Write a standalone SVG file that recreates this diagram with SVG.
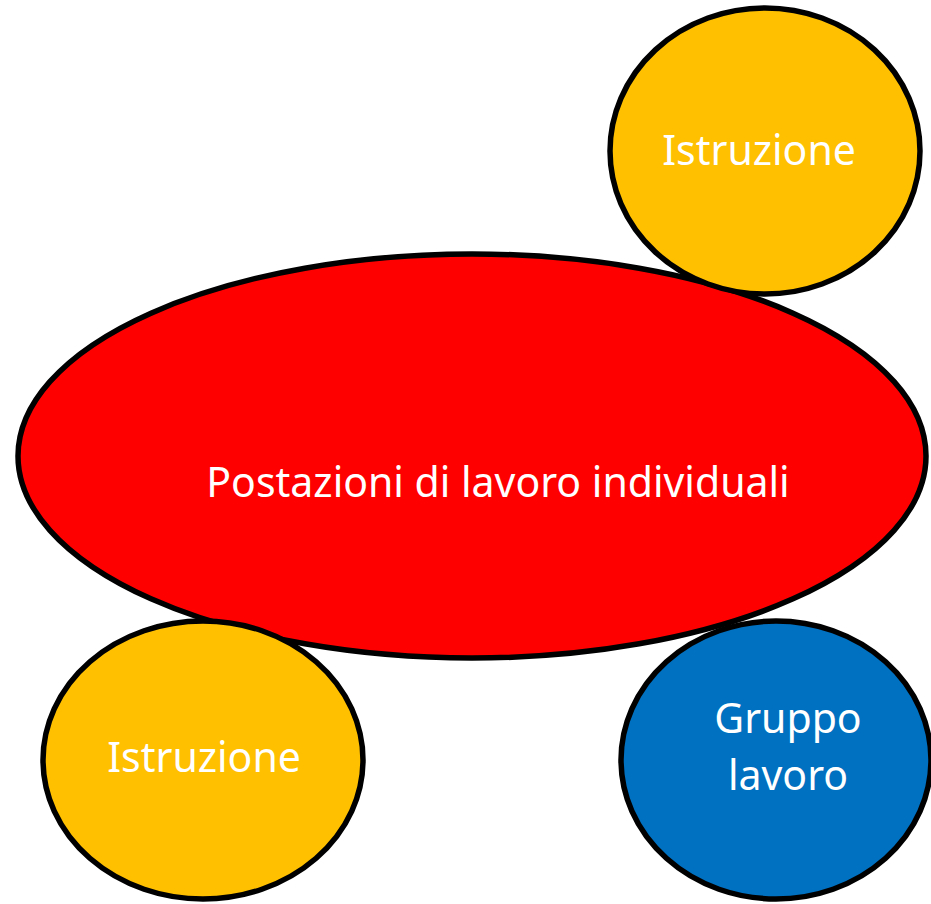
<svg xmlns="http://www.w3.org/2000/svg" width="931" height="904" viewBox="0 0 931 904">
<style>
.n{stroke:#000;stroke-width:5.5}
.t{font-family:"Noto Sans","Open Sans",sans-serif;font-size:41px;fill:#fff;text-anchor:middle}
</style>
<rect width="931" height="904" fill="#fff"/>
<g id="connectors"></g>
<g id="main"><ellipse class="n" cx="472" cy="456" rx="454" ry="202" fill="#ff0000"/><text class="t" x="498" y="497">Postazioni di lavoro individuali</text></g>
<g id="istr-top"><ellipse class="n" cx="765" cy="151" rx="155" ry="143" fill="#ffc000"/><text class="t" x="759" y="165">Istruzione</text></g>
<g id="istr-bottom"><ellipse class="n" cx="203" cy="760" rx="160" ry="139" fill="#ffc000"/><text class="t" x="204" y="772">Istruzione</text></g>
<g id="gruppo"><ellipse class="n" cx="776" cy="760" rx="155" ry="139" fill="#0070c0"/><text class="t" x="788" y="733">Gruppo</text><text class="t" x="788" y="790">lavoro</text></g>
</svg>
